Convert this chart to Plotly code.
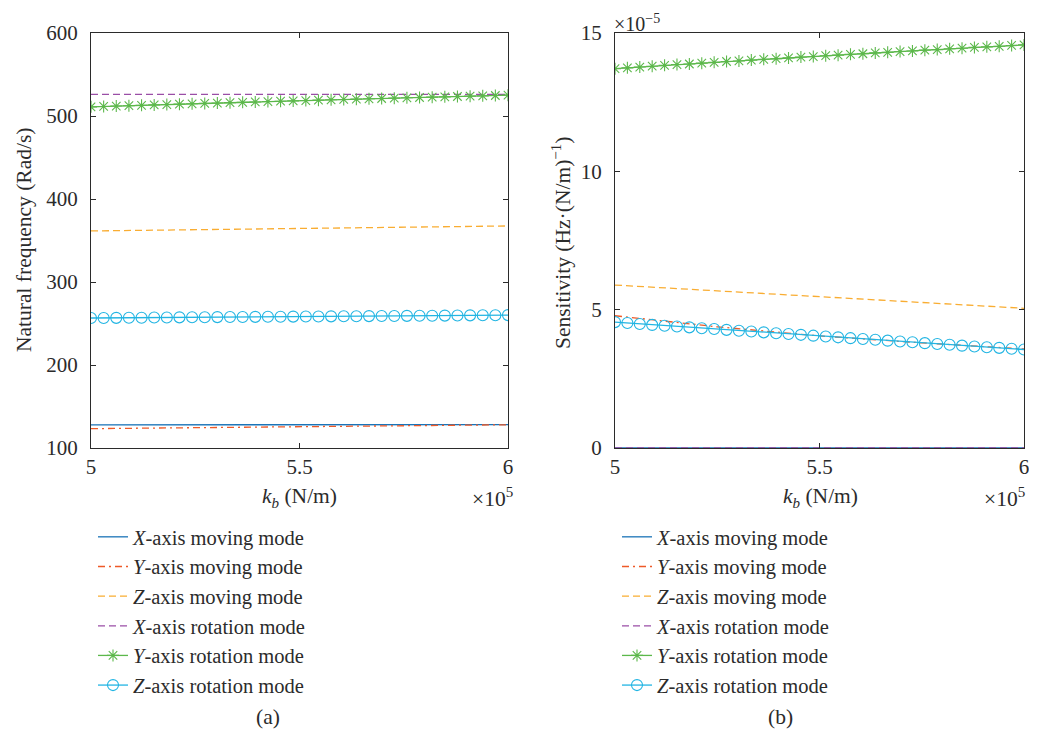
import numpy as np
import plotly.graph_objects as go

# ---------------- data ----------------
# stiffness k_b in units of 1e5 N/m
kb = np.linspace(5.0, 6.0, 34)          # sampling grid (34 points, as in the figure)
kb_coarse = [5.0, 5.25, 5.5, 5.75, 6.0]  # grid for the marker-less lines

names = ["<i>X</i>-axis moving mode", "<i>Y</i>-axis moving mode", "<i>Z</i>-axis moving mode",
         "<i>X</i>-axis rotation mode", "<i>Y</i>-axis rotation mode", "<i>Z</i>-axis rotation mode"]

# (a) natural frequency, rad/s
a_x_move = [127.9, 128.0, 128.0, 128.1, 128.2]
a_y_move = [123.3, 124.5, 125.7, 126.9, 128.0]
a_z_move = [361.5, 363.0, 364.5, 366.0, 367.5]
a_x_rot = [526.0, 526.0, 526.0, 526.0, 526.0]
a_y_rot = [511.0, 511.5, 512.0, 512.4, 512.9, 513.4, 513.8, 514.3, 514.7, 515.2, 515.6, 516.1,
           516.5, 516.9, 517.4, 517.8, 518.2, 518.6, 519.1, 519.5, 519.9, 520.3, 520.7, 521.1,
           521.5, 521.9, 522.3, 522.7, 523.1, 523.5, 523.9, 524.3, 524.7, 525.1]
a_z_rot = [256.6, 256.7, 256.8, 256.9, 257.0, 257.2, 257.3, 257.4, 257.5, 257.6, 257.7, 257.8,
           257.9, 258.0, 258.1, 258.2, 258.3, 258.4, 258.5, 258.6, 258.7, 258.8, 258.9, 259.0,
           259.1, 259.2, 259.3, 259.4, 259.5, 259.6, 259.8, 259.9, 260.0, 260.1]

# (b) sensitivity, in units of 1e-5 Hz/(N/m)
b_x_move = [0.0, 0.0, 0.0, 0.0, 0.0]
b_y_move = [4.78, 4.38, 4.05, 3.80, 3.58]
b_z_move = [5.89, 5.68, 5.47, 5.26, 5.05]
b_x_rot = [0.0, 0.0, 0.0, 0.0, 0.0]
b_y_rot = [13.71, 13.74, 13.77, 13.80, 13.83, 13.86, 13.88, 13.91, 13.94, 13.97, 13.99, 14.02,
           14.05, 14.07, 14.10, 14.13, 14.15, 14.18, 14.20, 14.23, 14.25, 14.28, 14.30, 14.33,
           14.35, 14.38, 14.40, 14.43, 14.45, 14.48, 14.50, 14.52, 14.55, 14.57]
b_z_rot = [4.55, 4.52, 4.48, 4.45, 4.42, 4.39, 4.36, 4.33, 4.30, 4.27, 4.24, 4.21,
           4.18, 4.15, 4.12, 4.09, 4.06, 4.03, 4.00, 3.97, 3.94, 3.91, 3.88, 3.85,
           3.82, 3.79, 3.76, 3.73, 3.70, 3.67, 3.64, 3.62, 3.59, 3.56]

a_yticks = [100, 200, 300, 400, 500, 600]
b_yticks = [0, 5, 10, 15]
xticks = [5, 5.5, 6]

# ---------------- style ----------------
# the page body has an 8px margin, so the figure starts at (8, 8) in the window;
# all positions below are given in window pixels and shifted by that margin.
# The figure is kept narrower than the window so nothing at the right edge is clipped.
OFF = 8
W, H = 1021, 738 - 2 * OFF
FONT = "Liberation Serif"
TXT = "#2b2b2b"
C_BLUE = "#1b74b8"
C_RED = "#ee5a28"
C_ORANGE = "#f9ad32"
C_PURPLE = "#9a4ea6"
C_GREEN = "#5cb84b"
C_CYAN = "#22b5e3"
DASH = "7px,4px"
DASHDOT = "7px,4px,2px,4px"

def px_x(p):
    return (p - OFF) / W

def px_y(p):
    return 1 - (p - OFF) / H

fig = go.Figure()

sym_size = {"asterisk-open": 10, "circle-open": 11}

def add_panel(xa, ya, leg, series):
    for name, xs, ys, color, dash, sym in series:
        kw = dict(x=xs, y=ys, name=name, xaxis=xa, yaxis=ya, legend=leg, showlegend=True)
        if sym is None:
            fig.add_trace(go.Scatter(mode="lines", line=dict(color=color, width=1.3, dash=dash), **kw))
        else:
            fig.add_trace(go.Scatter(mode="lines+markers", line=dict(color=color, width=1.3, dash=dash),
                                     marker=dict(symbol=sym, size=sym_size[sym], color=color,
                                                 line=dict(color=color, width=1.1)), **kw))

add_panel("x", "y", "legend", [
    (names[0], kb_coarse, a_x_move, C_BLUE, "solid", None),
    (names[1], kb_coarse, a_y_move, C_RED, DASHDOT, None),
    (names[2], kb_coarse, a_z_move, C_ORANGE, DASH, None),
    (names[3], kb_coarse, a_x_rot, C_PURPLE, DASH, None),
    (names[4], kb, a_y_rot, C_GREEN, "solid", "asterisk-open"),
    (names[5], kb, a_z_rot, C_CYAN, "solid", "circle-open"),
])
add_panel("x2", "y2", "legend2", [
    (names[0], kb_coarse, b_x_move, C_BLUE, "solid", None),
    (names[1], kb_coarse, b_y_move, C_RED, DASHDOT, None),
    (names[2], kb_coarse, b_z_move, C_ORANGE, DASH, None),
    (names[3], kb_coarse, b_x_rot, C_PURPLE, DASH, None),
    (names[4], kb, b_y_rot, C_GREEN, "solid", "asterisk-open"),
    (names[5], kb, b_z_rot, C_CYAN, "solid", "circle-open"),
])

axis_common = dict(showline=True, linecolor="#2b2b2b", linewidth=1, mirror="ticks",
                   ticks="inside", ticklen=5, tickcolor="#2b2b2b", showgrid=False,
                   zeroline=False, automargin=False, ticklabeloverflow="allow",
                   tickfont=dict(family=FONT, size=21, color=TXT))

ydom = [px_y(448), px_y(33)]
LEG_FONT = dict(family=FONT, size=20.5, color=TXT)
fig.update_layout(
    width=W, height=H, template="none",
    paper_bgcolor="white", plot_bgcolor="white",
    margin=dict(l=0, r=0, t=0, b=0),
    font=dict(family=FONT, size=21, color=TXT),
    xaxis=dict(domain=[px_x(91), px_x(508)], range=[5, 6], tickvals=xticks,
               ticktext=["5", "5.5", "6"], anchor="y", **axis_common),
    yaxis=dict(domain=ydom, range=[100, 600], tickvals=a_yticks, anchor="x",
               ticklabelstandoff=8, **axis_common),
    xaxis2=dict(domain=[px_x(615), px_x(1024)], range=[5, 6], tickvals=xticks,
                ticktext=["5", "5.5", "6"], anchor="y2", **axis_common),
    yaxis2=dict(domain=ydom, range=[0, 15], tickvals=b_yticks, anchor="x2",
                ticklabelstandoff=8, **axis_common),
    legend=dict(x=px_x(93), y=px_y(517), xanchor="left", yanchor="top",
                bgcolor="rgba(0,0,0,0)", borderwidth=0, font=LEG_FONT),
    legend2=dict(x=px_x(617), y=px_y(517), xanchor="left", yanchor="top",
                 bgcolor="rgba(0,0,0,0)", borderwidth=0, font=LEG_FONT),
    showlegend=True,
)

ann_font = dict(family=FONT, size=21.5, color=TXT)
annotations = [
    dict(text="<i>k</i><sub><i>b</i></sub> (N/m)", x=px_x(299), y=px_y(497)),
    dict(text="<i>k</i><sub><i>b</i></sub> (N/m)", x=px_x(820), y=px_y(497)),
    dict(text="×10<sup>5</sup>", x=px_x(470), y=px_y(497), xanchor="left"),
    dict(text="×10<sup>5</sup>", x=px_x(982), y=px_y(497), xanchor="left"),
    dict(text="×10<sup>−5</sup>", x=px_x(612), y=px_y(23), xanchor="left",
         font=dict(family=FONT, size=20, color=TXT)),
    dict(text="Natural frequency (Rad/s)", x=px_x(24), y=px_y(240), textangle=-90),
    dict(text="Sensitivity (Hz·(N/m)<sup>−1</sup>)", x=px_x(561), y=px_y(243), textangle=-90),
    dict(text="(a)", x=px_x(268), y=px_y(717)),
    dict(text="(b)", x=px_x(780), y=px_y(717)),
]
for a in annotations:
    a.setdefault("xanchor", "center")
    a.setdefault("font", ann_font)
    fig.add_annotation(xref="paper", yref="paper", showarrow=False, yanchor="middle", **a)

fig.write_html("out.html")
